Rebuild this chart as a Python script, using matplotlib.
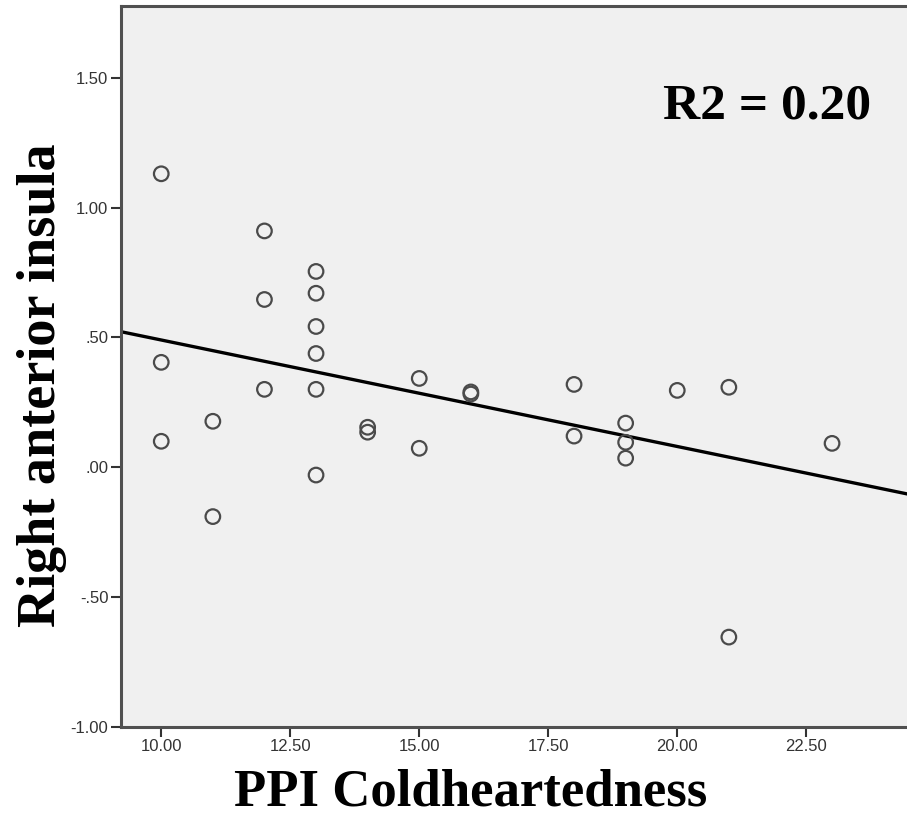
import numpy as np
import matplotlib.pyplot as plt

# PPI Coldheartedness (x) vs right anterior insula (y)
coldheartedness = [10, 10, 10, 11, 11, 12, 12, 12,
                   13, 13, 13, 13, 13, 13, 14, 14,
                   15, 15, 16, 16, 18, 18, 19, 19, 19,
                   20, 21, 21, 23]
insula = [1.13, 0.404, 0.10, 0.177, -0.19, 0.91, 0.646, 0.30,
          0.754, 0.67, 0.542, 0.438, 0.30, -0.03, 0.154, 0.135,
          0.342, 0.073, 0.29, 0.282, 0.319, 0.12, 0.17, 0.096, 0.035,
          0.296, 0.308, -0.654, 0.092]

# fit line as drawn in the figure
FIT_SLOPE = -0.041
FIT_INTERCEPT = 0.90
R2_TEXT = "R2 = 0.20"

x_ticks = [10.0, 12.5, 15.0, 17.5, 20.0, 22.5]
x_ticklabels = ["10.00", "12.50", "15.00", "17.50", "20.00", "22.50"]
y_ticks = [-1.0, -0.5, 0.0, 0.5, 1.0, 1.5]
y_ticklabels = ["-1.00", "-.50", ".00", ".50", "1.00", "1.50"]

XLIM = (9.22, 24.6)
YLIM = (-1.0, 1.775)

SERIF = ["Liberation Serif", "DejaVu Serif"]
SPINE = "#505050"

fig = plt.figure(figsize=(9.07, 8.26), dpi=100)
ax = fig.add_axes([0.1334, 0.1199, 0.875, 0.8725])
ax.set_facecolor("#f0f0f0")

ax.scatter(coldheartedness, insula, s=110, facecolors="none",
           edgecolors="#4a4a4a", linewidths=1.6, zorder=3)

xs = np.array(XLIM)
ax.plot(xs, FIT_INTERCEPT + FIT_SLOPE * xs, color="black", lw=2.4, zorder=2)

ax.set_xlim(*XLIM)
ax.set_ylim(*YLIM)
ax.set_xticks(x_ticks)
ax.set_xticklabels(x_ticklabels)
ax.set_yticks(y_ticks)
ax.set_yticklabels(y_ticklabels)
ax.tick_params(length=7, width=1.5, color="#333333", labelsize=12,
               labelcolor="#333333", pad=2)
for lab in ax.get_xticklabels() + ax.get_yticklabels():
    lab.set_family("Liberation Sans")

for side in ["left", "bottom", "top"]:
    ax.spines[side].set_color(SPINE)
    ax.spines[side].set_linewidth(2.2)
ax.spines["right"].set_visible(False)

ax.set_xlabel("PPI Coldheartedness", family=SERIF, fontweight="bold",
              fontsize=38)
ax.xaxis.set_label_coords(0.44, -0.057)
ax.set_ylabel("Right anterior insula", family=SERIF, fontweight="bold",
              fontsize=39)
ax.yaxis.set_label_coords(-0.068, 0.474)

ax.text(0.814, 0.861, R2_TEXT, transform=ax.transAxes, family=SERIF,
        fontweight="bold", fontsize=37, ha="center", va="center")

fig.savefig("out.png", dpi=100)
